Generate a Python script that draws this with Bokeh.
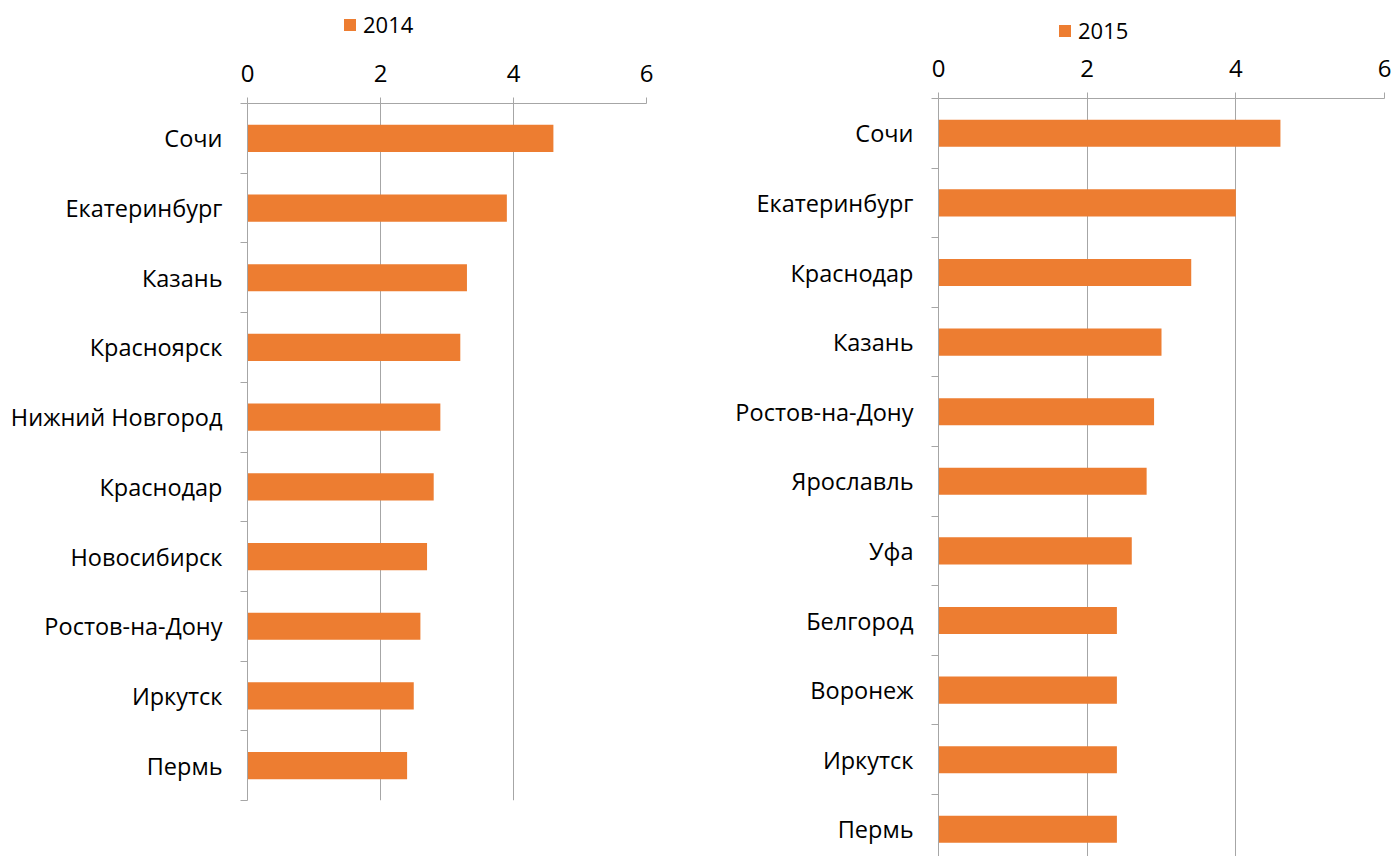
from bokeh.plotting import figure
from bokeh.layouts import row, column
from bokeh.models import Range1d, FixedTicker, Legend, LegendItem
from bokeh.embed import file_html
from bokeh.resources import INLINE

cities_2014 = ["Сочи", "Екатеринбург", "Казань", "Красноярск", "Нижний Новгород",
               "Краснодар", "Новосибирск", "Ростов-на-Дону", "Иркутск", "Пермь"]
values_2014 = [4.6, 3.9, 3.3, 3.2, 2.9, 2.8, 2.7, 2.6, 2.5, 2.4]

cities_2015 = ["Сочи", "Екатеринбург", "Краснодар", "Казань", "Ростов-на-Дону",
               "Ярославль", "Уфа", "Белгород", "Воронеж", "Иркутск", "Пермь"]
values_2015 = [4.6, 4.0, 3.4, 3.0, 2.9, 2.8, 2.6, 2.4, 2.4, 2.4, 2.4]

x_ticks = [0, 2, 4, 6]

BAR = "#ED7D31"
GRID = "#a6a6a6"
FONT = "Open Sans"
LEG_H = 46


def make_legend_fig(year, cities, values, width, legend_xy):
    # a strip above each panel that only carries the panel's legend;
    # its bars lie far outside its ranges, so only the legend shows
    n = len(cities)
    centers = [i + 0.5 for i in range(n)]
    lf = figure(width=width, height=LEG_H, output_backend="svg", toolbar_location=None,
                x_axis_location=None, y_axis_location=None,
                x_range=Range1d(0, 6), y_range=Range1d(1000, 1001),
                min_border_left=0, min_border_right=0, min_border_top=0, min_border_bottom=0)
    lf.outline_line_color = None
    lf.xgrid.grid_line_color = None
    lf.ygrid.grid_line_color = None
    proxy = lf.hbar(y=centers, right=values, left=0, height=0.39, color=BAR, line_color=None)
    legend = Legend(items=[LegendItem(label=year, renderers=[proxy])],
                    location=legend_xy, orientation="horizontal",
                    border_line_color=None, background_fill_alpha=0,
                    padding=0, margin=0, spacing=0,
                    glyph_width=15, glyph_height=15, label_standoff=6,
                    label_height=15,
                    label_text_font=FONT, label_text_font_size="22px",
                    label_text_color="#000000")
    lf.add_layout(legend)
    return lf


def make_panel(cities, values, width, height, mb_left, mb_right, mb_top, mb_bottom, y_span):
    n = len(cities)
    centers = [i + 0.5 for i in range(n)]
    p = figure(width=width, height=height, output_backend="svg", toolbar_location=None,
               x_axis_location="above", x_range=Range1d(0, 6),
               y_range=Range1d(y_span, 0),
               min_border_left=mb_left, min_border_right=mb_right,
               min_border_top=mb_top, min_border_bottom=mb_bottom)
    p.outline_line_color = None
    p.background_fill_color = "white"
    p.border_fill_color = "white"

    p.hbar(y=centers, right=values, left=0, height=0.39, color=BAR, line_color=None)

    # x axis (top)
    xa = p.xaxis[0]
    xa.ticker = FixedTicker(ticks=x_ticks)
    xa.axis_line_color = GRID
    xa.major_tick_line_color = GRID
    xa.major_tick_out = 6
    xa.major_tick_in = 0
    xa.minor_tick_line_color = None
    xa.major_label_text_font = FONT
    xa.major_label_text_font_size = "24px"
    xa.major_label_text_color = "#000000"
    xa.major_label_standoff = 16

    # y axis (left): labels at category centres, small ticks at category boundaries
    ya = p.yaxis[0]
    ya.ticker = FixedTicker(ticks=centers, minor_ticks=list(range(n + 1)))
    ya.major_label_overrides = {c: name for c, name in zip(centers, cities)}
    ya.axis_line_color = GRID
    ya.major_tick_line_color = None
    ya.major_tick_out = 0
    ya.major_tick_in = 0
    ya.minor_tick_line_color = GRID
    ya.minor_tick_out = 7
    ya.minor_tick_in = 0
    ya.major_label_text_font = FONT
    ya.major_label_text_font_size = "23.5px"
    ya.major_label_text_color = "#000000"
    ya.major_label_standoff = 18

    p.xgrid.grid_line_color = GRID
    p.xgrid.ticker = FixedTicker(ticks=x_ticks)
    p.ygrid.grid_line_color = None
    return p


TOTAL_H = 856
W1 = 700
W2 = 692

# left: frame x 247..646, y 103..800
l1 = make_legend_fig("2014", cities_2014, values_2014, W1, (342 - 247, 7))
p1 = make_panel(cities_2014, values_2014, width=W1, height=TOTAL_H - LEG_H,
                mb_left=247, mb_right=W1 - 646, mb_top=103 - LEG_H, mb_bottom=TOTAL_H - 800,
                y_span=10)
# right: frame x 938..1384, y 98..856
l2 = make_legend_fig("2015", cities_2015, values_2015, W2, (1057 - 938, 1))
p2 = make_panel(cities_2015, values_2015, width=W2, height=TOTAL_H - LEG_H,
                mb_left=938 - W1, mb_right=W1 + W2 - 1384, mb_top=98 - LEG_H, mb_bottom=0,
                y_span=(856 - 98) / 69.6)

layout = row(column(l1, p1), column(l2, p2))
open("out.html", "w").write(file_html(layout, INLINE))
